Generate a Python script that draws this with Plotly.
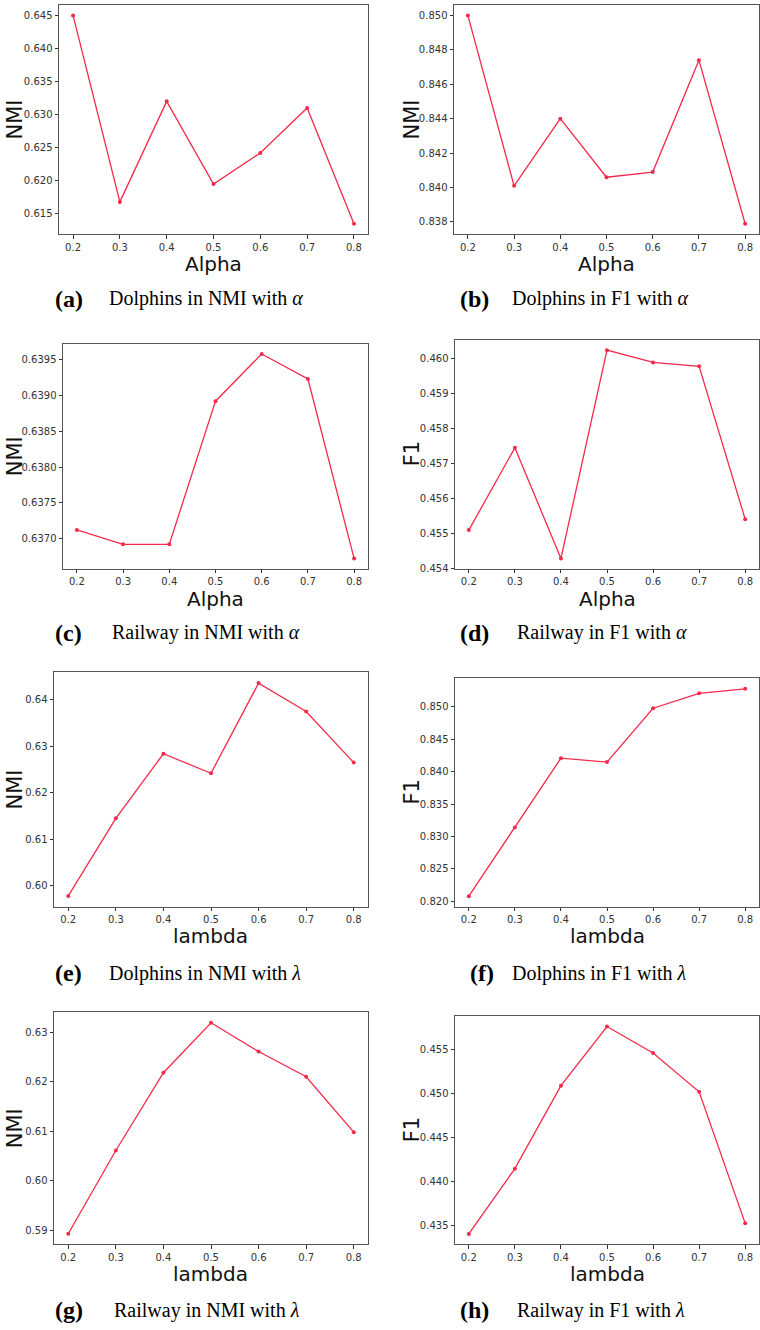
import plotly.graph_objects as go

W, H = 760, 1330

x_vals = [0.2, 0.3, 0.4, 0.5, 0.6, 0.7, 0.8]

dolphins_nmi_alpha = [0.6450, 0.6168, 0.6320, 0.6195, 0.6242, 0.6310, 0.6135]
dolphins_f1_alpha = [0.8500, 0.8401, 0.8440, 0.8406, 0.8409, 0.8474, 0.8379]
railway_nmi_alpha = [0.63712, 0.63692, 0.63692, 0.63892, 0.63958, 0.63923, 0.63672]
railway_f1_alpha = [0.45509, 0.45744, 0.45428, 0.46023, 0.45988, 0.45977, 0.45540]
dolphins_nmi_lambda = [0.5978, 0.6145, 0.6284, 0.6242, 0.6436, 0.6375, 0.6265]
dolphins_f1_lambda = [0.8208, 0.8314, 0.8421, 0.8415, 0.8498, 0.8521, 0.8528]
railway_nmi_lambda = [0.5893, 0.6061, 0.6218, 0.6319, 0.6261, 0.6210, 0.6098]
railway_f1_lambda = [0.4341, 0.4415, 0.4509, 0.4576, 0.4546, 0.4502, 0.4353]

x_titles = ["Alpha", "Alpha", "Alpha", "Alpha", "lambda", "lambda", "lambda", "lambda"]
y_titles = ["NMI", "NMI", "NMI", "F1", "NMI", "F1", "NMI", "F1"]
panel_letters = ["(a)", "(b)", "(c)", "(d)", "(e)", "(f)", "(g)", "(h)"]
captions = [
    "Dolphins in NMI with <i>α</i>",
    "Dolphins in F1 with <i>α</i>",
    "Railway in NMI with <i>α</i>",
    "Railway in F1 with <i>α</i>",
    "Dolphins in NMI with <i>λ</i>",
    "Dolphins in F1 with <i>λ</i>",
    "Railway in NMI with <i>λ</i>",
    "Railway in F1 with <i>λ</i>",
]
series = [dolphins_nmi_alpha, dolphins_f1_alpha, railway_nmi_alpha, railway_f1_alpha,
          dolphins_nmi_lambda, dolphins_f1_lambda, railway_nmi_lambda, railway_f1_lambda]

# y tick settings: (tick0, dtick, format)
y_ticks = [
    (0.615, 0.005, ".3f"),
    (0.838, 0.002, ".3f"),
    (0.6370, 0.0005, ".4f"),
    (0.454, 0.001, ".3f"),
    (0.60, 0.01, ".2f"),
    (0.820, 0.005, ".3f"),
    (0.59, 0.01, ".2f"),
    (0.435, 0.005, ".3f"),
]

# panel boxes in pixels: (left, right, top, bottom)
boxes = [
    (59, 368, 5, 235),
    (454, 759, 5, 235),
    (63, 368, 345, 571),
    (455, 759, 341, 571),
    (54, 368, 675, 910),
    (455, 759, 681, 910),
    (54, 368, 1016, 1249),
    (455, 759, 1020, 1249),
]
# caption positions: (letter_x, text_x, y)
cap_pos = [
    (53, 107, 300), (458, 510, 300),
    (53, 110, 635), (458, 515, 635),
    (53, 107, 977), (468, 510, 977),
    (53, 112, 1315), (458, 515, 1315),
]
ytitle_x = [15, 412, 15, 412, 15, 412, 15, 412]

LINE_COLOR = "#f42a4b"
fig = go.Figure()
annotations = []
layout = {}

for i in range(8):
    l, r, t, b = boxes[i]
    suffix = "" if i == 0 else str(i + 1)
    xa = "xaxis" + suffix
    ya = "yaxis" + suffix
    ys = series[i]
    ymin, ymax = min(ys), max(ys)
    pad = (ymax - ymin) * 0.05
    tick0, dtick, fmt = y_ticks[i]
    layout[xa] = dict(
        domain=[l / W, r / W], anchor="y" + suffix, range=[0.17, 0.83],
        tick0=0.2, dtick=0.1, tickformat=".1f",
        showline=True, mirror=True, linecolor="#555555", linewidth=1,
        ticks="outside", ticklen=3.5, tickwidth=1, tickcolor="#333333",
        showgrid=False, zeroline=False,
        tickfont=dict(family="DejaVu Sans", size=10, color="#333333"),
    )
    layout[ya] = dict(
        domain=[1 - b / H, 1 - t / H], anchor="x" + suffix,
        range=[ymin - pad, ymax + pad],
        tick0=tick0, dtick=dtick, tickformat=fmt,
        showline=True, mirror=True, linecolor="#555555", linewidth=1,
        ticks="outside", ticklen=3.5, tickwidth=1, tickcolor="#333333",
        showgrid=False, zeroline=False,
        tickfont=dict(family="DejaVu Sans", size=10, color="#333333"),
    )
    fig.add_trace(go.Scatter(
        x=x_vals, y=ys, mode="lines+markers",
        line=dict(color=LINE_COLOR, width=1.3),
        marker=dict(color=LINE_COLOR, size=4),
        xaxis="x" + suffix, yaxis="y" + suffix, showlegend=False,
    ))
    # x title
    annotations.append(dict(
        text=x_titles[i], x=(l + r) / 2 / W, y=1 - (b + 30) / H,
        xref="paper", yref="paper", xanchor="center", yanchor="middle",
        showarrow=False, font=dict(family="DejaVu Sans", size=20, color="#111111"),
    ))
    # y title
    annotations.append(dict(
        text=y_titles[i], x=ytitle_x[i] / W, y=1 - (t + b) / 2 / H,
        xref="paper", yref="paper", xanchor="center", yanchor="middle",
        textangle=-90, showarrow=False,
        font=dict(family="DejaVu Sans", size=21, color="#111111"),
    ))
    lx, tx, cy = cap_pos[i]
    annotations.append(dict(
        text="<b>" + panel_letters[i] + "</b>", x=lx / W, y=1 - cy / H,
        xref="paper", yref="paper", xanchor="left", yanchor="middle",
        showarrow=False, font=dict(family="Liberation Serif", size=24, color="#000000"),
    ))
    annotations.append(dict(
        text=captions[i], x=tx / W, y=1 - cy / H,
        xref="paper", yref="paper", xanchor="left", yanchor="middle",
        showarrow=False, font=dict(family="Liberation Serif", size=20, color="#000000"),
    ))

fig.update_layout(
    width=W, height=H, margin=dict(l=0, r=0, t=0, b=0),
    paper_bgcolor="white", plot_bgcolor="white",
    annotations=annotations, **layout,
)

fig.write_html("out.html")
